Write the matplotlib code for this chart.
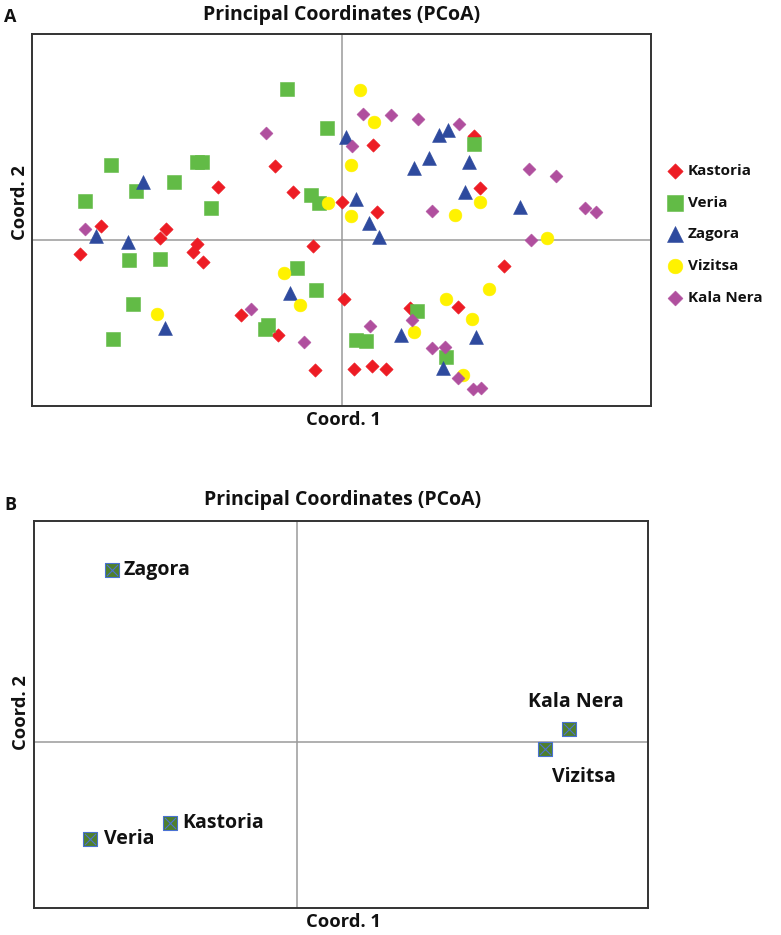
import matplotlib
matplotlib.use("Agg")
import matplotlib.pyplot as plt

plt.rcParams['font.family'] = ['Open Sans', 'DejaVu Sans']

W, H = 781, 935

# ---------------- Panel A data (Coord. 1, Coord. 2) ----------------
groups = ["Kastoria", "Veria", "Zagora", "Vizitsa", "Kala Nera"]

kastoria_x = [-0.67, -1.24, -0.49, 0.00, -2.41, -1.76, -1.82, -2.62, -1.45, -1.49, -1.39, -0.29, 0.02,
              -1.01, -0.64, -0.27, 0.31, 1.32, 1.38, 0.35, 1.62, 0.68, 1.16, 0.12, 0.30, 0.44]
kastoria_y = [0.74, 0.53, 0.48, 0.38, 0.14, 0.11, 0.02, -0.14, -0.04, -0.12, -0.22, -0.06, -0.59,
              -0.75, -0.95, -1.30, 0.95, 1.04, 0.52, 0.28, -0.26, -0.68, -0.67, -1.29, -1.26, -1.29]

veria_x = [-0.55, -0.15, -2.31, -1.45, -1.40, -1.68, -2.06, -2.57, -1.31, -0.31, -0.23, -2.13,
           -1.82, -0.45, -0.26, -2.09, -2.29, -0.77, -0.74, 1.32, 0.75, 0.14, 0.24, 1.04]
veria_y = [1.51, 1.12, 0.75, 0.78, 0.78, 0.58, 0.49, 0.39, 0.32, 0.45, 0.37, -0.20,
           -0.19, -0.28, -0.50, -0.64, -0.99, -0.89, -0.85, 0.96, -0.71, -1.00, -1.01, -1.17]

zagora_x = [-1.99, -2.46, -2.14, -0.52, -1.77, 0.04, 0.97, 1.06, 0.87, 0.72, 1.27, 0.14, 1.23,
            1.78, 0.27, 0.37, 0.59, 1.34, 1.01]
zagora_y = [0.58, 0.04, -0.02, -0.53, -0.88, 1.03, 1.05, 1.10, 0.82, 0.72, 0.78, 0.41, 0.48,
            0.33, 0.17, 0.03, -0.95, -0.97, -1.28]

vizitsa_x = [-0.14, -0.58, -0.42, -1.85, 0.18, 0.32, 0.09, 0.09, 1.13, 1.38, 2.05, 1.47, 1.04,
             1.30, 0.72, 1.21]
vizitsa_y = [0.37, -0.33, -0.65, -0.74, 1.50, 1.18, 0.75, 0.24, 0.25, 0.38, 0.02, -0.49, -0.59,
             -0.79, -0.92, -1.35]

kalanera_x = [-0.76, -2.57, -0.91, -0.38, 0.21, 0.49, 0.76, 1.17, 0.10, 1.87, 2.14, 0.90, 2.43,
              2.54, 1.89, 0.28, 0.70, 0.90, 1.03, 1.16, 1.31, 1.39]
kalanera_y = [1.07, 0.11, -0.69, -1.02, 1.26, 1.25, 1.21, 1.16, 0.94, 0.71, 0.64, 0.29, 0.32,
              0.28, 0.00, -0.86, -0.80, -1.08, -1.07, -1.38, -1.49, -1.48]

# ---------------- Panel B data (population centroids) ----------------
pop_names = ["Zagora", "Kastoria", "Veria", "Kala Nera", "Vizitsa"]
pop_x = [-1.85, -1.27, -2.07, 2.72, 2.48]
pop_y = [1.72, -0.81, -0.97, 0.13, -0.07]

colors = ["#ed1c24", "#62bb46", "#2e4a9e", "#fff200", "#b04f9e"]
markers = ["D", "s", "^", "o", "D"]
sizes = [6.8**2, 9.4**2, 10.0**2, 9.2**2, 6.6**2]

fig = plt.figure(figsize=(W / 100, H / 100), dpi=100)

def fx(px):
    return px / W

def fy(py):
    return 1 - py / H

# ---------------- Panel A ----------------
axA = fig.add_axes([fx(32), fy(406), (651 - 32) / W, (406 - 34) / H])
series = [(kastoria_x, kastoria_y), (veria_x, veria_y), (zagora_x, zagora_y),
          (vizitsa_x, vizitsa_y), (kalanera_x, kalanera_y)]
for (xs, ys), name, c, m, s in zip(series, groups, colors, markers, sizes):
    axA.scatter(xs, ys, s=s, marker=m, color=c, edgecolors=c, linewidths=0.4,
                label=name, zorder=3)
axA.set_xlim(-3.10, 3.09)
axA.set_ylim(-1.66, 2.06)
axA.axhline(0, color="#9a9a9a", lw=1.1, zorder=1)
axA.axvline(0, color="#9a9a9a", lw=1.1, zorder=1)
axA.set_xticks([])
axA.set_yticks([])
for sp in axA.spines.values():
    sp.set_color("#333333")
    sp.set_linewidth(1.4)

leg = axA.legend(loc="upper left", bbox_to_anchor=(fx(668), fy(164)),
                 bbox_transform=fig.transFigure, frameon=False,
                 prop={"weight": "bold", "size": 11},
                 handlelength=0.95, handletextpad=0.35, labelspacing=1.16,
                 borderpad=0, borderaxespad=0, markerscale=1.15)
for t in leg.get_texts():
    t.set_color("#111111")

# ---------------- Panel B ----------------
axB = fig.add_axes([fx(34), fy(908), (648 - 34) / W, (908 - 521) / H])
axB.scatter(pop_x, pop_y, s=9.4**2, marker="s", color="#4f7f2c",
            edgecolors="#4a72d4", linewidths=0.8, zorder=3)
axB.scatter(pop_x, pop_y, s=8.0**2, marker="x", color="#4a72d4",
            linewidths=0.8, zorder=4)
axB.set_xlim(-2.63, 3.51)
axB.set_ylim(-1.66, 2.21)
axB.axhline(0, color="#9a9a9a", lw=1.1, zorder=1)
axB.axvline(0, color="#9a9a9a", lw=1.1, zorder=1)
axB.set_xticks([])
axB.set_yticks([])
for sp in axB.spines.values():
    sp.set_color("#333333")
    sp.set_linewidth(1.4)

label_offsets = {"Zagora": (12, 0, "left", "center"),
                 "Kastoria": (12, 0, "left", "center"),
                 "Veria": (14, 0, "left", "center"),
                 "Kala Nera": (7, 27, "center", "center"),
                 "Vizitsa": (39, -28, "center", "center")}
for name, x, y in zip(pop_names, pop_x, pop_y):
    dx, dy, ha, va = label_offsets[name]
    axB.annotate(name, (x, y), xytext=(dx, dy), textcoords="offset pixels",
                 ha=ha, va=va, fontsize=14, fontweight="bold", color="#111111")

# ---------------- Titles and labels ----------------
tkw = dict(fontweight="bold", color="#111111", ha="center", va="center")
fig.text(fx(342), fy(15), "Principal Coordinates (PCoA)", fontsize=14, **tkw)
fig.text(fx(343), fy(500), "Principal Coordinates (PCoA)", fontsize=14, **tkw)
fig.text(fx(344), fy(420), "Coord. 1", fontsize=13.2, **tkw)
fig.text(fx(343), fy(922), "Coord. 1", fontsize=13.2, **tkw)
fig.text(fx(20), fy(203), "Coord. 2", rotation=90, fontsize=13.2, **tkw)
fig.text(fx(21), fy(713), "Coord. 2", rotation=90, fontsize=13.2, **tkw)
fig.text(fx(10), fy(17), "A", fontsize=13, **tkw)
fig.text(fx(10), fy(505), "B", fontsize=13, **tkw)

fig.savefig("out.png", dpi=100)
